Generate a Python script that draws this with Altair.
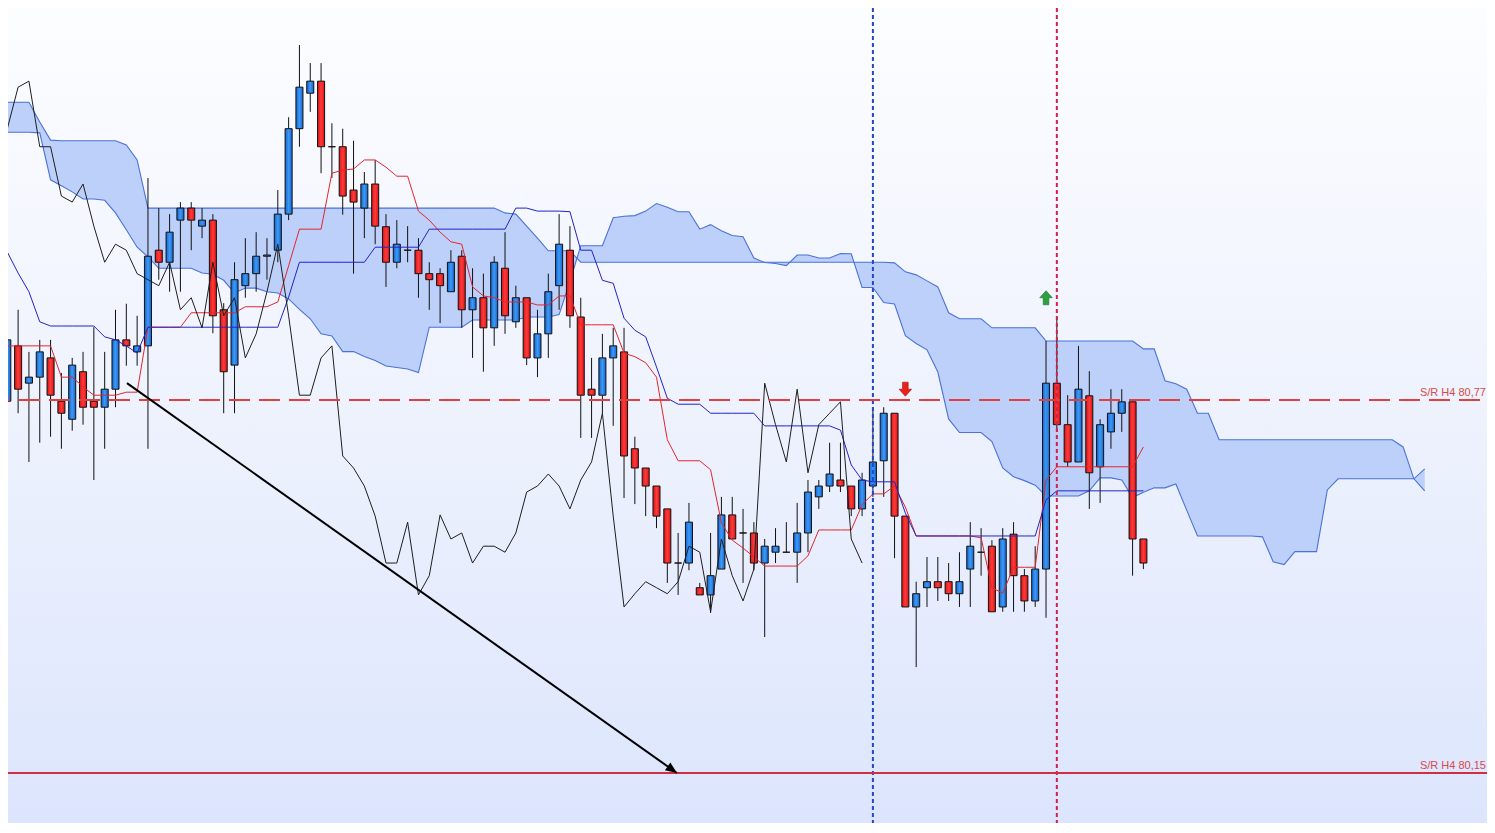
import altair as alt
import pandas as pd

# ---------------- data ----------------
# candles, bar index 0..105
opens = [80.768, 80.860, 80.798, 80.808, 80.840, 80.768, 80.738, 80.817, 80.768, 80.758,
         80.788, 80.870, 80.850, 80.860, 81.019, 80.999, 81.069, 81.089, 81.059, 81.069,
         80.920, 80.828, 80.960, 80.980, 81.009, 81.019, 81.079, 81.221, 81.280, 81.300,
         81.191, 81.191, 81.119, 81.089, 81.129, 81.058, 80.999, 81.019, 81.019, 80.980,
         80.980, 80.950, 81.009, 80.920, 80.940, 80.890, 80.989, 80.900, 80.940, 80.840,
         80.880, 80.960, 81.019, 80.908, 80.788, 80.778, 80.840, 80.850, 80.689, 80.657,
         80.627, 80.589, 80.499, 80.499, 80.458, 80.446, 80.489, 80.579, 80.549, 80.549,
         80.499, 80.517, 80.517, 80.517, 80.549, 80.609, 80.627, 80.637, 80.627, 80.589,
         80.627, 80.669, 80.748, 80.577, 80.426, 80.458, 80.468, 80.468, 80.448, 80.489,
         80.517, 80.527, 80.426, 80.547, 80.478, 80.436, 80.489, 80.798, 80.729, 80.667,
         80.777, 80.659, 80.717, 80.748, 80.767, 80.539]
highs = [80.881, 80.920, 80.850, 80.870, 80.870, 80.815, 80.840, 80.850, 80.891, 80.850,
         80.920, 80.930, 80.910, 81.139, 81.089, 81.079, 81.099, 81.099, 81.089, 81.079,
         80.931, 80.999, 81.039, 81.049, 81.039, 81.119, 81.240, 81.360, 81.330, 81.330,
         81.230, 81.221, 81.201, 81.149, 81.169, 81.079, 81.069, 81.059, 81.039, 80.999,
         80.989, 81.019, 81.019, 80.989, 80.980, 81.009, 81.049, 80.960, 80.940, 80.920,
         80.980, 81.079, 81.059, 80.940, 80.840, 80.880, 80.890, 80.890, 80.709, 80.657,
         80.627, 80.589, 80.549, 80.599, 80.466, 80.549, 80.609, 80.609, 80.589, 80.567,
         80.539, 80.557, 80.567, 80.599, 80.637, 80.637, 80.699, 80.699, 80.627, 80.649,
         80.757, 80.758, 80.748, 80.577, 80.468, 80.509, 80.509, 80.499, 80.517, 80.567,
         80.557, 80.537, 80.557, 80.567, 80.489, 80.527, 80.868, 80.908, 80.778, 80.860,
         80.818, 80.738, 80.788, 80.788, 80.767, 80.539]
lows = [80.667, 80.748, 80.667, 80.699, 80.709, 80.689, 80.719, 80.729, 80.637, 80.689,
        80.758, 80.827, 80.827, 80.689, 80.970, 80.950, 80.950, 81.019, 81.039, 80.881,
        80.748, 80.748, 80.940, 80.950, 80.970, 80.999, 81.069, 81.191, 81.249, 81.147,
        81.139, 81.078, 80.980, 81.039, 81.029, 80.958, 80.989, 80.999, 80.940, 80.920,
        80.898, 80.950, 80.890, 80.840, 80.817, 80.860, 80.880, 80.890, 80.828, 80.808,
        80.840, 80.920, 80.890, 80.707, 80.707, 80.748, 80.727, 80.607, 80.597, 80.577,
        80.557, 80.466, 80.446, 80.487, 80.446, 80.416, 80.489, 80.539, 80.466, 80.487,
        80.376, 80.499, 80.517, 80.466, 80.517, 80.589, 80.617, 80.617, 80.577, 80.577,
        80.609, 80.609, 80.507, 80.426, 80.326, 80.426, 80.436, 80.436, 80.426, 80.426,
        80.478, 80.418, 80.418, 80.418, 80.418, 80.426, 80.408, 80.717, 80.659, 80.667,
        80.589, 80.599, 80.689, 80.717, 80.478, 80.489]
closes = [80.870, 80.788, 80.808, 80.850, 80.778, 80.748, 80.828, 80.758, 80.758, 80.788,
          80.870, 80.860, 80.860, 81.009, 80.999, 81.049, 81.089, 81.069, 81.069, 80.910,
          80.817, 80.970, 80.980, 81.009, 81.011, 81.079, 81.221, 81.290, 81.300, 81.191,
          81.191, 81.109, 81.099, 81.129, 81.059, 80.999, 81.029, 81.019, 80.980, 80.970,
          80.960, 80.999, 80.920, 80.940, 80.890, 80.999, 80.910, 80.940, 80.840, 80.880,
          80.950, 81.029, 80.910, 80.778, 80.778, 80.840, 80.860, 80.677, 80.657, 80.627,
          80.577, 80.499, 80.499, 80.567, 80.446, 80.478, 80.579, 80.539, 80.549, 80.499,
          80.527, 80.527, 80.517, 80.549, 80.617, 80.627, 80.647, 80.627, 80.589, 80.637,
          80.667, 80.748, 80.577, 80.426, 80.448, 80.468, 80.458, 80.448, 80.468, 80.527,
          80.517, 80.418, 80.539, 80.478, 80.436, 80.489, 80.798, 80.729, 80.667, 80.788,
          80.649, 80.729, 80.748, 80.767, 80.539, 80.499]

# Tenkan-sen and Kijun-sen, bar index -1..105
tenkan = [80.886,
          80.860, 80.860, 80.860, 80.860, 80.860, 80.808, 80.808, 80.792, 80.778, 80.778,
          80.778, 80.783, 80.783, 80.891, 80.891, 80.891, 80.891, 80.915, 80.915, 80.915,
          80.915, 80.915, 80.925, 80.925, 80.925, 80.933, 80.993, 81.054, 81.054, 81.054,
          81.147, 81.152, 81.154, 81.169, 81.169, 81.157, 81.142, 81.142, 81.084, 81.069,
          81.049, 81.033, 81.029, 80.958, 80.943, 80.940, 80.933, 80.933, 80.933, 80.928,
          80.928, 80.943, 80.943, 80.895, 80.895, 80.895, 80.895, 80.848, 80.842, 80.832,
          80.808, 80.704, 80.669, 80.669, 80.669, 80.654, 80.566, 80.537, 80.524, 80.509,
          80.494, 80.494, 80.494, 80.494, 80.511, 80.554, 80.554, 80.554, 80.554, 80.596,
          80.614, 80.614, 80.627, 80.592, 80.544, 80.544, 80.544, 80.544, 80.544, 80.544,
          80.541, 80.458, 80.449, 80.492, 80.492, 80.492, 80.637, 80.659, 80.659, 80.659,
          80.659, 80.659, 80.659, 80.659, 80.659, 80.692]
kijun = [81.019,
         81.016, 80.981, 80.950, 80.900, 80.893, 80.893, 80.893, 80.893, 80.893, 80.875,
         80.870, 80.860, 80.848, 80.891, 80.891, 80.891, 80.891, 80.891, 80.891, 80.891,
         80.891, 80.891, 80.891, 80.891, 80.891, 80.891, 80.941, 80.999, 80.999, 80.999,
         80.999, 80.999, 80.999, 80.999, 81.024, 81.024, 81.024, 81.024, 81.024, 81.054,
         81.054, 81.054, 81.054, 81.054, 81.054, 81.054, 81.054, 81.089, 81.089, 81.084,
         81.084, 81.084, 81.083, 81.019, 81.019, 80.969, 80.964, 80.906, 80.886, 80.875,
         80.825, 80.773, 80.763, 80.763, 80.763, 80.748, 80.748, 80.748, 80.748, 80.748,
         80.727, 80.727, 80.727, 80.727, 80.727, 80.727, 80.727, 80.720, 80.662, 80.637,
         80.634, 80.634, 80.634, 80.582, 80.544, 80.544, 80.544, 80.544, 80.544, 80.544,
         80.544, 80.544, 80.544, 80.544, 80.544, 80.544, 80.604, 80.619, 80.619, 80.619,
         80.619, 80.619, 80.619, 80.619, 80.619, 80.619]

# Senkou span A, bar index -1..25 (the rest comes from Tenkan/Kijun 26 bars back)
senkou_a_early = [81.215, 81.215, 81.215, 81.215, 81.214, 81.136, 81.126, 81.116, 81.104,
                  81.104, 81.102, 81.081, 81.053, 81.024, 81.008, 80.989, 80.989, 80.989,
                  80.989, 80.981, 80.979, 80.969, 80.948, 80.956, 80.956, 80.950, 80.948]

# Senkou span B, bar index -1..131
senkou_b = [81.265, 81.265, 81.265, 81.265, 81.232, 81.202, 81.201, 81.201, 81.201, 81.201,
            81.201, 81.201, 81.194, 81.169,
            81.089, 81.089, 81.089, 81.089, 81.089, 81.089, 81.089, 81.089, 81.089, 81.089,
            81.089, 81.089, 81.089, 81.089, 81.089, 81.089, 81.089, 81.089, 81.089, 81.089,
            81.089, 81.089, 81.089, 81.089, 81.089, 81.089, 81.089, 81.089, 81.089, 81.089,
            81.089, 81.089, 81.089,
            81.081, 81.079, 81.059, 81.039, 81.018, 81.018, 81.018,
            80.999, 80.999, 80.999, 80.999, 80.999, 80.999, 80.999, 80.999, 80.999, 80.999,
            80.999, 80.999, 80.999, 80.999, 80.999, 80.999, 80.999, 80.999, 80.999, 80.999,
            80.999, 80.999, 80.999, 80.999, 80.999, 80.999, 80.999, 80.999, 80.999,
            80.998, 80.983, 80.978, 80.968, 80.958, 80.915, 80.905, 80.905, 80.905,
            80.890, 80.890, 80.890, 80.890, 80.890,
            80.868, 80.868, 80.868, 80.868, 80.868, 80.868, 80.868, 80.868, 80.868,
            80.855, 80.855, 80.802, 80.797, 80.788, 80.748, 80.748,
            80.704, 80.704, 80.704, 80.704, 80.704, 80.704, 80.704, 80.704, 80.704, 80.704,
            80.704, 80.704, 80.704, 80.704, 80.704, 80.704, 80.704,
            80.692, 80.639, 80.619]

SR_LEVELS = [80.77, 80.15]
SR_LABELS = ["S/R H4 80,77", "S/R H4 80,15"]
VLINE_BLUE = [80]
VLINE_RED = [97]
SIGNAL_DOWN = {"i": [83], "p": [80.788]}
SIGNAL_UP = {"i": [96], "p": [80.940]}
TREND_I = [11.06, 61.89]
TREND_P = [80.798, 80.150]

# ---------------- build tables ----------------
W, H = 1479, 815
n = len(closes)
candles = pd.DataFrame({"i": list(range(n)), "open": opens, "high": highs,
                        "low": lows, "close": closes})
candles["x0"] = candles["i"] - 0.325
candles["x1"] = candles["i"] + 0.325
up_df = candles[candles["close"] >= candles["open"]]
dn_df = candles[candles["close"] < candles["open"]]

lines_df = pd.DataFrame({"i": list(range(-1, n)), "tenkan": tenkan, "kijun": kijun})
chikou_df = pd.DataFrame({"i": [k - 26 for k in range(25, n)], "v": closes[25:]})
senkou_a = senkou_a_early + [(tenkan[k + 1] + kijun[k + 1]) / 2 for k in range(n)]
cloud_df = pd.DataFrame({"i": list(range(-1, -1 + len(senkou_b))), "a": senkou_a, "b": senkou_b})

xs = alt.Scale(domain=[0.065, 136.756], nice=False, zero=False)
ys = alt.Scale(domain=[80.0669, 81.4216], nice=False, zero=False)


def X(f):
    return alt.X(f"{f}:Q", scale=xs, axis=None)


def Y(f):
    return alt.Y(f"{f}:Q", scale=ys, axis=None)


bg = alt.Chart(pd.DataFrame({"k": [0]})).mark_rect(
    fill=alt.LinearGradient(
        gradient="linear",
        stops=[alt.GradientStop(color="#fcfdff", offset=0),
               alt.GradientStop(color="#eef2fd", offset=0.5),
               alt.GradientStop(color="#dce5fd", offset=1)],
        x1=0, x2=0, y1=0, y2=1),
    strokeWidth=0,
).encode(x=alt.value(0), x2=alt.value(W), y=alt.value(0), y2=alt.value(H))

cloud = alt.Chart(cloud_df).mark_area(color="#bdd0fa", opacity=1, clip=True).encode(
    x=X("i"), y=Y("a"), y2=alt.Y2("b"))
edge_a = alt.Chart(cloud_df).mark_line(color="#4a72d8", strokeWidth=1.1, clip=True).encode(
    x=X("i"), y=Y("a"))
edge_b = alt.Chart(cloud_df).mark_line(color="#4a72d8", strokeWidth=1.1, clip=True).encode(
    x=X("i"), y=Y("b"))

wicks = alt.Chart(candles).mark_rule(color="#111111", strokeWidth=1, clip=True).encode(
    x=X("i"), y=Y("low"), y2=alt.Y2("high"))

blue_fill = alt.LinearGradient(
    gradient="linear",
    stops=[alt.GradientStop(color="#1464d2", offset=0),
           alt.GradientStop(color="#3c9af4", offset=0.5),
           alt.GradientStop(color="#1464d2", offset=1)],
    x1=0, x2=1, y1=0, y2=0)
red_fill = alt.LinearGradient(
    gradient="linear",
    stops=[alt.GradientStop(color="#d81414", offset=0),
           alt.GradientStop(color="#ff3a3a", offset=0.5),
           alt.GradientStop(color="#d81414", offset=1)],
    x1=0, x2=1, y1=0, y2=0)

up_bodies = alt.Chart(up_df).mark_rect(fill=blue_fill, stroke="#111111", strokeWidth=1, clip=True).encode(
    x=X("x0"), x2=alt.X2("x1"), y=Y("open"), y2=alt.Y2("close"))
dn_bodies = alt.Chart(dn_df).mark_rect(fill=red_fill, stroke="#111111", strokeWidth=1, clip=True).encode(
    x=X("x0"), x2=alt.X2("x1"), y=Y("open"), y2=alt.Y2("close"))

tenkan_line = alt.Chart(lines_df).mark_line(color="#e3262b", strokeWidth=1, clip=True).encode(
    x=X("i"), y=Y("tenkan"))
kijun_line = alt.Chart(lines_df).mark_line(color="#2323c8", strokeWidth=1, clip=True).encode(
    x=X("i"), y=Y("kijun"))
chikou_line = alt.Chart(chikou_df).mark_line(color="#1e1e1e", strokeWidth=1, clip=True).encode(
    x=X("i"), y=Y("v"))

vblue = alt.Chart(pd.DataFrame({"i": VLINE_BLUE})).mark_rule(
    color="#2446c8", strokeWidth=2, strokeDash=[4, 3]).encode(x=X("i"))
vred = alt.Chart(pd.DataFrame({"i": VLINE_RED})).mark_rule(
    color="#d41f4c", strokeWidth=2, strokeDash=[4, 3]).encode(x=X("i"))

sr_df = pd.DataFrame({"y": SR_LEVELS, "label": SR_LABELS})
sr1 = alt.Chart(sr_df.iloc[[0]]).mark_rule(
    color="#e0403f", strokeWidth=2, strokeDash=[21, 9], strokeDashOffset=23).encode(y=Y("y"))
sr2 = alt.Chart(sr_df.iloc[[1]]).mark_rule(color="#cf3040", strokeWidth=2).encode(y=Y("y"))
sr_text = alt.Chart(sr_df).mark_text(
    align="right", baseline="alphabetic", dy=-4, fontSize=11,
    font="Liberation Sans", color="#d64a4a").encode(
    x=alt.value(W - 1), y=Y("y"), text="label:N")

trend_df = pd.DataFrame({"i": TREND_I, "p": TREND_P})
trend = alt.Chart(trend_df).mark_line(color="#000000", strokeWidth=2).encode(x=X("i"), y=Y("p"))
trend_head = alt.Chart(trend_df.iloc[[1]]).mark_point(
    shape="M0,0L-1,-0.42L-1,0.42Z", size=520, filled=True, color="#000000",
    opacity=1, angle=35.3).encode(x=X("i"), y=Y("p"))

sig_dn = alt.Chart(pd.DataFrame(SIGNAL_DOWN)).mark_point(
    shape="M-0.4,-1L0.4,-1L0.4,0L0.9,0L0,1L-0.9,0L-0.4,0Z", size=196, filled=True,
    fill="#e8221c", stroke="#a80f0f", strokeWidth=0.6, opacity=1).encode(x=X("i"), y=Y("p"))
sig_up = alt.Chart(pd.DataFrame(SIGNAL_UP)).mark_point(
    shape="M-0.4,1L0.4,1L0.4,0L0.9,0L0,-1L-0.9,0L-0.4,0Z", size=196, filled=True,
    fill="#2ea043", stroke="#17712a", strokeWidth=0.6, opacity=1).encode(x=X("i"), y=Y("p"))

chart = alt.layer(
    bg, cloud, edge_a, edge_b, wicks, up_bodies, dn_bodies,
    tenkan_line, kijun_line, chikou_line, vblue, vred,
    sr1, sr2, trend, trend_head, sr_text, sig_dn, sig_up,
).properties(
    width=W, height=H, padding=0, autosize=alt.AutoSizeParams(type="none")
).configure_view(stroke=None)

chart.save("out.html", embed_options={"renderer": "svg", "actions": False})
